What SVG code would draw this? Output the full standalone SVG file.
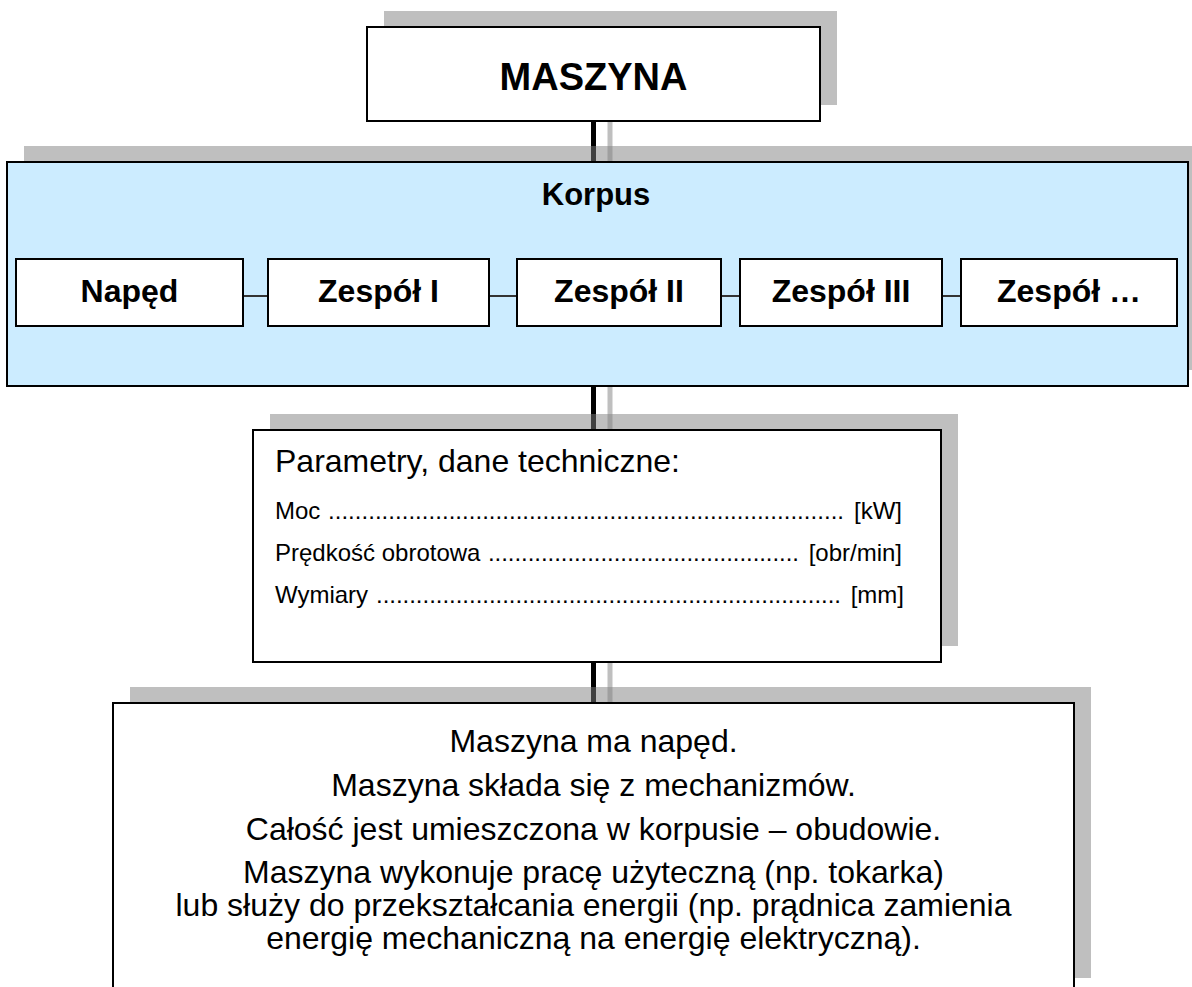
<svg xmlns="http://www.w3.org/2000/svg" width="1192" height="987" viewBox="0 0 1192 987">
  <style>
    text { font-family: "Liberation Sans", Arial, sans-serif; fill: #000; }
    .shadow { fill: #808080; fill-opacity: 0.5; }
    .box { fill: #fff; stroke: #000; stroke-width: 2; }
    .korpus { fill: #ccecff; stroke: #000; stroke-width: 2; }
    .title { font-size: 38px; font-weight: bold; text-anchor: middle; }
    .bold { font-size: 32px; font-weight: bold; text-anchor: middle; }
    .kbold { font-size: 31px; font-weight: bold; text-anchor: middle; }
    .head { font-size: 32px; }
    .item { font-size: 24px; }
    .note { font-size: 32px; text-anchor: middle; }
    .link { stroke: #333; stroke-width: 2; }
    .trunk { stroke: #000; stroke-width: 5; }
    .trunk-sh { stroke: #bfbfbf; stroke-width: 5; }
  </style>

  <!-- vertical trunk between the levels (drawn first, shadows sit over it) -->
  <g id="connectors">
    <line class="trunk-sh" x1="610" y1="121" x2="610" y2="162"/>
    <line class="trunk" x1="593.5" y1="121" x2="593.5" y2="162"/>
    <line class="trunk-sh" x1="610" y1="386" x2="610" y2="430"/>
    <line class="trunk" x1="593.5" y1="386" x2="593.5" y2="430"/>
    <line class="trunk-sh" x1="610" y1="662" x2="610" y2="703"/>
    <line class="trunk" x1="593.5" y1="662" x2="593.5" y2="703"/>
  </g>

  <g id="maszyna">
    <rect class="shadow" x="384" y="11" width="453" height="94"/>
    <rect class="box" x="367" y="27" width="453" height="94"/>
    <text class="title" x="593.5" y="90">MASZYNA</text>
  </g>

  <g id="korpus">
    <rect class="shadow" x="24" y="146" width="1181" height="224"/>
    <rect class="korpus" x="7" y="162" width="1181" height="224"/>
    <text class="kbold" x="596" y="205">Korpus</text>
  </g>

  <!-- links between the units inside the body -->
  <g id="unit-links">
    <line class="link" x1="243" y1="296" x2="268" y2="296"/>
    <line class="link" x1="489" y1="296" x2="517" y2="296"/>
    <line class="link" x1="721" y1="296" x2="740" y2="296"/>
    <line class="link" x1="942" y1="296" x2="961" y2="296"/>
  </g>

  <g id="naped">
    <rect class="box" x="16" y="259" width="227" height="67"/>
    <text class="bold" x="129.5" y="302">Napęd</text>
  </g>
  <g id="zespol-1">
    <rect class="box" x="268" y="259" width="221" height="67"/>
    <text class="bold" x="378.5" y="302">Zespół I</text>
  </g>
  <g id="zespol-2">
    <rect class="box" x="517" y="259" width="204" height="67"/>
    <text class="bold" x="619" y="302">Zespół II</text>
  </g>
  <g id="zespol-3">
    <rect class="box" x="740" y="259" width="202" height="67"/>
    <text class="bold" x="841" y="302">Zespół III</text>
  </g>
  <g id="zespol-n">
    <rect class="box" x="961" y="259" width="216" height="67"/>
    <text class="bold" x="1069" y="302">Zespół …</text>
  </g>

  <g id="parametry">
    <rect class="shadow" x="270" y="414" width="688" height="232"/>
    <rect class="box" x="253" y="430" width="688" height="232"/>
    <text class="head" x="275" y="472">Parametry, dane techniczne:</text>
    <text class="item" y="519"><tspan x="275">Moc </tspan><tspan x="328" textLength="516" lengthAdjust="spacing">.............................................................................</tspan><tspan x="902" text-anchor="end"> [kW]</tspan></text>
    <text class="item" y="561"><tspan x="275">Prędkość obrotowa </tspan><tspan x="488" textLength="311" lengthAdjust="spacing">...............................................</tspan><tspan x="902" text-anchor="end"> [obr/min]</tspan></text>
    <text class="item" y="603"><tspan x="275">Wymiary </tspan><tspan x="376" textLength="465" lengthAdjust="spacing">......................................................................</tspan><tspan x="904" text-anchor="end"> [mm]</tspan></text>
  </g>

  <g id="opis">
    <rect class="shadow" x="130" y="687" width="961" height="291"/>
    <rect class="box" x="113" y="703" width="961" height="292"/>
    <text class="note" x="593.5" y="752">Maszyna ma napęd.</text>
    <text class="note" x="593.5" y="796">Maszyna składa się z mechanizmów.</text>
    <text class="note" x="593.5" y="840">Całość jest umieszczona w korpusie – obudowie.</text>
    <text class="note" x="593.5" y="883">Maszyna wykonuje pracę użyteczną (np. tokarka)</text>
    <text class="note" x="593.5" y="916">lub służy do przekształcania energii (np. prądnica zamienia</text>
    <text class="note" x="593.5" y="949">energię mechaniczną na energię elektryczną).</text>
  </g>
</svg>
